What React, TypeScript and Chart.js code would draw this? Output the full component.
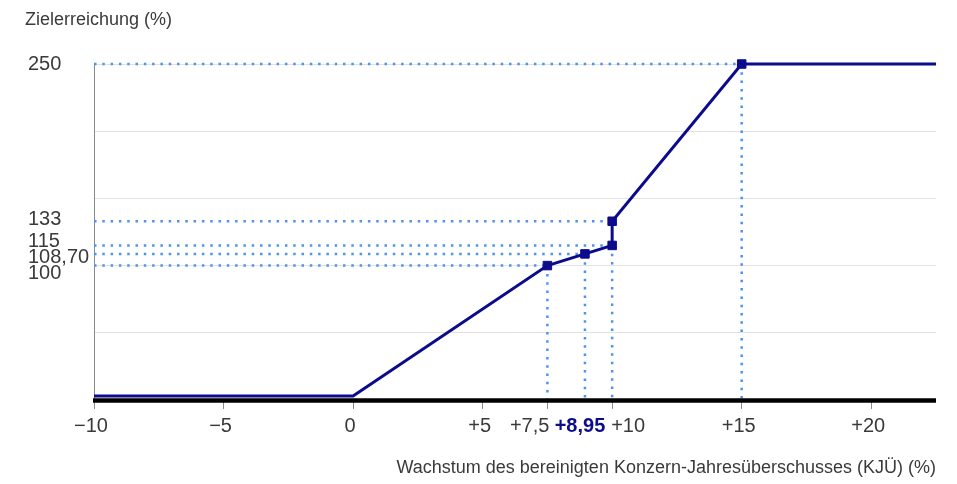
import React, { useEffect, useRef } from "react";
import { Chart, registerables } from "chart.js";

Chart.register(...registerables);

// ---- data ----
const CURVE_X = [-10, 0, 7.5, 8.95, 10, 10, 15, 22.5];
const CURVE_Y = [3, 3, 100, 108.7, 115, 133, 250, 250];
const CURVE_MARKED = [false, false, true, true, true, true, true, false];

const GUIDE_X = [7.5, 8.95, 10, 10, 15];
const GUIDE_Y = [100, 108.7, 115, 133, 250];
const GUIDE_VERTICAL = [true, true, true, false, true];

const X_TICKS = [-10, -5, 0, 5, 7.5, 10, 15, 20];
const X_TICK_LABELS = ["−10", "−5", "0", "+5", "+7,5", "+10", "+15", "+20"];
const ACTUAL_X = 8.95;
const ACTUAL_LABEL = "+8,95";

const Y_TICKS = [250, 133, 115, 108.7, 100];
const Y_TICK_LABELS = ["250", "133", "115", "108,70", "100"];

const Y_TITLE = "Zielerreichung (%)";
const X_TITLE = "Wachstum des bereinigten Konzern-Jahresüberschusses (KJÜ) (%)";

const X_MIN = -10;
const X_MAX = 22.5;
const Y_MIN = 0;
const Y_MAX = 250;

// ---- style ----
const NAVY = "#0b0b8c";
const GUIDE_BLUE = "#4d94ea";
const TEXT = "#3a3a3a";
const FONT = "'Liberation Sans', Arial, sans-serif";

// label nudges (layout only)
const Y_LABEL_NUDGE: Record<string, number> = { "250": 0, "133": -2, "115": -4, "108,70": 4, "100": 8 };

const labelPlugin = {
  id: "customLabels",
  afterDatasetsDraw(chart: any) {
    const { ctx, chartArea, scales } = chart;
    const ys = scales.y;
    ctx.save();
    const y0 = ys.getPixelForValue(0);
    ctx.strokeStyle = "#000";
    ctx.lineWidth = 4.5;
    ctx.beginPath();
    ctx.moveTo(chartArea.left - 1, y0 + 0.5);
    ctx.lineTo(chartArea.right, y0 + 0.5);
    ctx.stroke();
    ctx.restore();
  },
  afterDraw(chart: any) {
    const { ctx, chartArea, scales } = chart;
    const xs = scales.x;
    const ys = scales.y;
    ctx.save();
    ctx.fillStyle = TEXT;
    ctx.textBaseline = "middle";

    // y tick labels
    ctx.font = `20px ${FONT}`;
    ctx.textAlign = "left";
    Y_TICKS.forEach((v, i) => {
      const lab = Y_TICK_LABELS[i];
      ctx.fillText(lab, 28, ys.getPixelForValue(v) + (Y_LABEL_NUDGE[lab] || 0));
    });

    // x tick labels
    const ly = chartArea.bottom + 26;
    X_TICKS.forEach((v, i) => {
      const lab = X_TICK_LABELS[i];
      const px = xs.getPixelForValue(v);
      if (v === 7.5) {
        ctx.textAlign = "right";
        ctx.fillText(lab, px + 2, ly);
      } else if (v === 10) {
        ctx.textAlign = "left";
        ctx.fillText(lab, px - 1, ly);
      } else {
        ctx.textAlign = "center";
        ctx.fillText(lab, px - 3, ly);
      }
    });
    ctx.fillStyle = NAVY;
    ctx.font = `bold 20px ${FONT}`;
    ctx.textAlign = "center";
    ctx.fillText(ACTUAL_LABEL, xs.getPixelForValue(ACTUAL_X) - 5, ly);

    // titles
    ctx.fillStyle = TEXT;
    ctx.font = `18px ${FONT}`;
    ctx.textAlign = "left";
    ctx.fillText(Y_TITLE, 25, 20);
    ctx.textAlign = "right";
    ctx.fillText(X_TITLE, chartArea.right, 468);
    ctx.restore();
  },
};

export default function App() {
  const ref = useRef<HTMLCanvasElement | null>(null);

  useEffect(() => {
    if (!ref.current) return;
    const mainData = CURVE_X.map((x, i) => ({ x, y: CURVE_Y[i] }));
    const guideSets: any[] = [];
    const guideStyle = {
      borderColor: GUIDE_BLUE,
      borderWidth: 2.5,
      borderDash: [2.5, 5.8],
      pointRadius: 0,
      clip: false,
      order: 5,
    };
    GUIDE_X.forEach((x, i) => {
      const y = GUIDE_Y[i];
      guideSets.push({ data: [{ x: X_MIN, y }, { x, y }], ...guideStyle });
      if (GUIDE_VERTICAL[i]) {
        guideSets.push({ data: [{ x, y }, { x, y: Y_MIN }], ...guideStyle });
      }
    });

    const chart = new Chart(ref.current, {
      type: "line",
      data: {
        datasets: [
          {
            data: mainData,
            borderColor: NAVY,
            backgroundColor: NAVY,
            borderWidth: 3,
            tension: 0,
            clip: false,
            pointStyle: "rect",
            pointRadius: CURVE_MARKED.map((m) => (m ? 6 : 0)),
            pointBackgroundColor: NAVY,
            pointBorderColor: NAVY,
            pointBorderWidth: 1,
            order: 1,
          },
          ...guideSets,
        ],
      },
      options: {
        animation: false,
        responsive: false,
        devicePixelRatio: 1,
        layout: { padding: { top: 64, right: 21, left: 0, bottom: 0 } },
        plugins: { legend: { display: false }, tooltip: { enabled: false } },
        scales: {
          x: {
            type: "linear",
            min: X_MIN,
            max: X_MAX,
            afterBuildTicks: (s: any) => {
              s.ticks = X_TICKS.map((v) => ({ value: v }));
            },
            afterFit: (s: any) => {
              s.height = 84;
            },
            ticks: { display: false },
            grid: {
              drawOnChartArea: false,
              drawTicks: true,
              tickLength: 9,
              color: "#8a8a8a",
              lineWidth: 1,
            },
            border: { display: false },
          },
          y: {
            type: "linear",
            min: Y_MIN,
            max: Y_MAX,
            ticks: { display: false, stepSize: 50 },
            afterFit: (s: any) => {
              s.width = 94;
            },
            grid: {
              color: "#e2e2e2",
              lineWidth: 1,
              drawTicks: false,
            },
            border: { display: true, color: "#8a8a8a", width: 1 },
          },
        },
      },
      plugins: [labelPlugin],
    });
    return () => chart.destroy();
  }, []);

  return (
    <div style={{ position: "absolute", left: 0, top: 0, width: 957, height: 484, background: "#fff" }}>
      <canvas ref={ref} width={957} height={484} style={{ width: 957, height: 484, display: "block" }} />
    </div>
  );
}
